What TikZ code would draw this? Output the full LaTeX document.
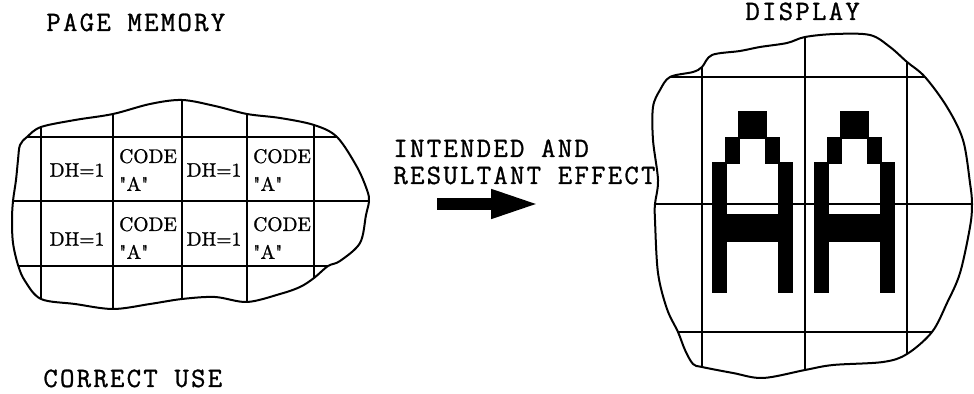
\documentclass[tikz,border=0pt]{standalone}
\usepackage{fontspec}
\newfontfamily\typewriter{Latin Modern Mono}[LetterSpace=8, FakeBold=1]
\newfontfamily\cellfont{Latin Modern Roman}[FakeBold=1]
\usepackage{tikz}
\usetikzlibrary{arrows.meta}

\begin{document}
\begin{tikzpicture}[
    x=0.5pt,
    y=-0.5pt,
    outline/.style={line width=1pt, line join=round},
    gridline/.style={line width=1.1pt},
    caption/.style={font=\typewriter\fontsize{14}{14}\selectfont, inner sep=0pt, anchor=base west},
    cell/.style={font=\cellfont\fontsize{9.8}{14}\selectfont, inner sep=0pt, align=left},
    pixel/.style={fill=black, draw=black, line width=1pt}
]
\useasboundingbox (0,0) rectangle (974,394);

% Captions
\node[caption] (pagemem) at (46,31) {PAGE MEMORY};
\node[caption] (display) at (745,20) {DISPLAY};
\node[caption] (intended) at (393,157) {INTENDED AND};
\node[caption] (resultant) at (393,184) {RESULTANT EFFECT};
\node[caption] (correct) at (43,387) {CORRECT USE};

% Page memory
\draw[outline] plot[smooth cycle, tension=0.55] coordinates {
    (27,137) (41,127) (75,120) (113,114) (150,104) (182,100) (215,106)
    (247,114) (280,118) (314,125) (337,137) (357,167) (367,190) (369,201)
    (366,215) (360,243) (340,261) (328,266) (314,278) (300,287) (280,294)
    (247,302) (215,297) (182,299) (150,304) (113,309) (75,304) (41,299)
    (25,281) (18,265) (13,243) (12,220) (13,201) (16,180) (18,160) (20,145)};
\draw[gridline] (27,137) -- (337,137);
\draw[gridline] (13,201) -- (369,201);
\draw[gridline] (18,266) -- (328,266);
\draw[gridline] (41,127) -- (41,299);
\draw[gridline] (113,114) -- (113,309);
\draw[gridline] (182,100) -- (182,299);
\draw[gridline] (247,114) -- (247,302);
\draw[gridline] (314,125) -- (314,278);

\node[cell] (dh11) at (77,170) {DH=1};
\node[cell] (code12) at (148,170) {CODE\\ \textquotedbl A\textquotedbl};
\node[cell] (dh13) at (214,170) {DH=1};
\node[cell] (code14) at (282,170) {CODE\\ \textquotedbl A\textquotedbl};
\node[cell] (dh21) at (77,239) {DH=1};
\node[cell] (code22) at (148,238) {CODE\\ \textquotedbl A\textquotedbl};
\node[cell] (dh23) at (214,239) {DH=1};
\node[cell] (code24) at (282,238) {CODE\\ \textquotedbl A\textquotedbl};

% Arrow
\coordinate (tail) at (437,204);
\coordinate (tip) at (541,204);
\draw[line width=6pt, -{Triangle[length=25pt, width=13pt]}] (tail) -- (tip);

% Display
\draw[outline] plot[smooth cycle, tension=0.55] coordinates {
    (702,67) (712,55) (740,51) (760,47) (787,43) (805,37) (835,34) (870,35)
    (890,47) (907,62) (925,77) (947,107) (963,140) (970,183) (972,204)
    (970,227) (960,273) (947,303) (932,332) (907,354) (883,362) (833,365)
    (805,370) (763,378) (733,373) (702,367) (693,364) (685,350) (678,332)
    (667,309) (658,273) (655,220) (655,204) (658,180) (653,140) (653,107)
    (660,90) (670,77) (693,72)};
\draw[gridline] (670,77) -- (925,77);
\draw[gridline] (655,204) -- (972,204);
\draw[gridline] (678,332) -- (932,332);
\draw[gridline] (702,67) -- (702,367);
\draw[gridline] (805,37) -- (805,370);
\draw[gridline] (907,62) -- (907,354);

% Double height characters
\foreach \ox in {713,815} {
    \begin{scope}[shift={(\ox,112)}, x=6.585pt, y=-6.43pt]
        \filldraw[pixel] (2,0) rectangle (4,2);
        \filldraw[pixel] (1,2) rectangle (2,4) (4,2) rectangle (5,4);
        \filldraw[pixel] (0,4) rectangle (1,14) (5,4) rectangle (6,14);
        \filldraw[pixel] (1,8) rectangle (5,10);
    \end{scope}
}

\end{tikzpicture}
\end{document}
